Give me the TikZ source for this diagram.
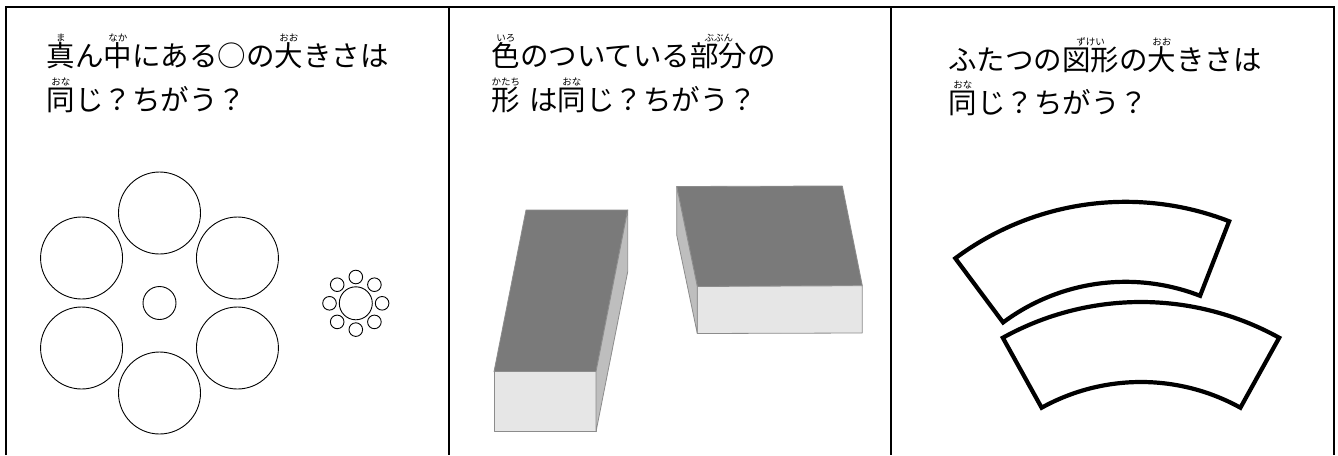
\documentclass[tikz,border=0pt]{standalone}
\usepackage{fontspec}
\setmainfont{Noto Sans CJK JP}

% small reading over a kanji
\newcommand\furi[2]{\setbox0\hbox{#1}\rlap{\hbox to\wd0{\hss\raisebox{24.5pt}{\fontsize{9.5}{9.5}\selectfont #2}\hss}}\box0}

\definecolor{topgray}{HTML}{7A7A7A}
\definecolor{sidegray}{HTML}{BEBEBE}
\definecolor{frontgray}{HTML}{E6E6E6}
\definecolor{edgegray}{HTML}{8C8C8C}

\begin{document}
\begin{tikzpicture}[x=1pt, y=-1pt,
    question/.style={anchor=base west, inner sep=0pt, font=\fontsize{28.5}{34}\selectfont},
    frame/.style={line width=2pt},
    ring/.style={line width=0.9pt},
    face/.style={draw=edgegray, line width=0.8pt, line join=round},
    band/.style={line width=4.2pt, fill=white}]
    \useasboundingbox (0,0) rectangle (1338,455);

    % Table
        \draw[frame] (6,455) -- (6,6.5) -- (1334,6.5) -- (1334,455);
        \draw[frame] (449,6.5) -- (449,455);
        \draw[frame] (891,6.5) -- (891,455);

    % Questions
        \node[question] (q1a) at (46.5,66) {\furi{真}{ま}ん\furi{中}{なか}にある○の\furi{大}{おお}きさは};
        \node[question] (q1b) at (46.5,110) {\furi{同}{おな}じ？ちがう？};
        \node[question] (q2a) at (491.5,66) {\furi{色}{いろ}のついている\furi{部分}{ぶぶん}の};
        \node[question] (q2b) at (491.5,110) {\furi{形}{かたち}\hspace{9pt}は\furi{同}{おな}じ？ちがう？};
        \node[question] (q3a) at (948,70) {ふたつの\furi{図形}{ずけい}の\furi{大}{おお}きさは};
        \node[question] (q3b) at (948.5,113) {\furi{同}{おな}じ？ちがう？};

    % First panel: circles
        % variables
        \def\ringR{90}
        \def\bigR{41}
        \def\midR{16.5}
        \def\dotRingR{26.3}
        \def\dotR{6.8}

        % big ring
        \coordinate (O) at (159.5,303);
        \draw[ring] (O) circle[radius=\midR];
        \foreach \a in {30,90,...,330}
            \draw[ring] (O) ++(\a:\ringR) circle[radius=\bigR];

        % small ring
        \coordinate (P) at (355.8,303.3);
        \draw[ring] (P) circle[radius=\midR];
        \foreach \a in {0,45,...,315}
            \draw[ring] (P) ++(\a:\dotRingR) circle[radius=\dotR];

    % Second panel: boxes
        % Left box points
        \coordinate (A) at (494,371.7);
        \coordinate (B) at (596,371.7);
        \coordinate (C) at (627.7,210);
        \coordinate (D) at (526,210);
        \coordinate (E) at (494,431.7);
        \coordinate (F) at (596,431.7);
        \coordinate (G) at (627.7,271.7);

        % Draw left box
        \filldraw[face, fill=topgray] (A) -- (B) -- (C) -- (D) -- cycle;
        \filldraw[face, fill=frontgray] (A) -- (B) -- (F) -- (E) -- cycle;
        \filldraw[face, fill=sidegray] (B) -- (C) -- (G) -- (F) -- cycle;

        % Right box points
        \coordinate (A') at (697.3,286.5);
        \coordinate (B') at (862.3,285.7);
        \coordinate (C') at (842.3,186);
        \coordinate (D') at (676.7,186.5);
        \coordinate (E') at (697.3,333.5);
        \coordinate (F') at (862.3,333);
        \coordinate (H') at (676.7,235);

        % Draw right box
        \filldraw[face, fill=topgray] (A') -- (B') -- (C') -- (D') -- cycle;
        \filldraw[face, fill=frontgray] (A') -- (B') -- (F') -- (E') -- cycle;
        \filldraw[face, fill=sidegray] (A') -- (D') -- (H') -- (E') -- cycle;

    % Third panel: bands
        % variables
        \def\outerR{285}
        \def\innerR{205}

        % upper band (turned)
        \draw[band, shift={(1125.6,486.8)}] (-126.7:\outerR)
            arc[start angle=-126.7, end angle=-68.7, radius=\outerR]
            -- (-68.7:\innerR)
            arc[start angle=-68.7, end angle=-126.7, radius=\innerR] -- cycle;

        % lower band
        \draw[band, shift={(1141,587)}] (-119:\outerR)
            arc[start angle=-119, end angle=-61, radius=\outerR]
            -- (-61:\innerR)
            arc[start angle=-61, end angle=-119, radius=\innerR] -- cycle;
\end{tikzpicture}
\end{document}
